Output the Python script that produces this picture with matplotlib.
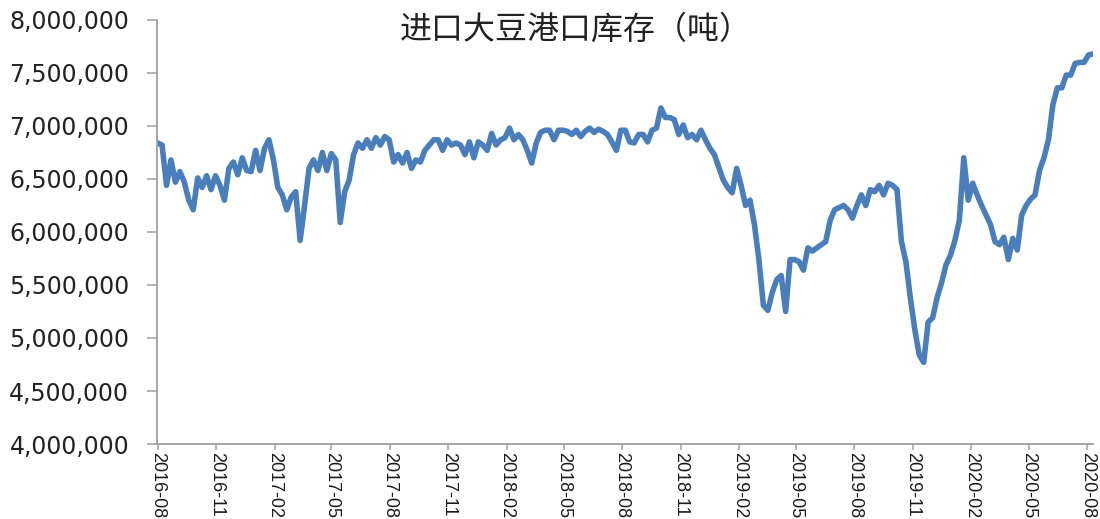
import matplotlib
matplotlib.use("Agg")
import matplotlib.pyplot as plt
from matplotlib.ticker import FuncFormatter, MultipleLocator
import pandas as pd

plt.rcParams['font.family'] = ['Noto Sans CJK SC', 'DejaVu Sans']

title = "进口大豆港口库存（吨）"
start_date = "2016-08-01"
# weekly readings, unit: 10,000 tons
values_wan = [
    684, 682, 644, 668, 647, 657, 647, 630, 621, 651,
    642, 653, 640, 653, 644, 630, 660, 666, 654, 670,
    658, 657, 677, 658, 679, 687, 668, 642, 635, 621,
    633, 638, 592, 625, 660, 668, 658, 675, 658, 674,
    668, 609, 638, 649, 673, 684, 679, 687, 679, 689,
    682, 690, 687, 666, 673, 665, 675, 660, 668, 666,
    677, 682, 687, 687, 677, 687, 682, 684, 682, 673,
    685, 670, 685, 682, 677, 693, 682, 687, 689, 698,
    687, 692, 687, 677, 665, 684, 694, 696, 696, 687,
    696, 696, 695, 692, 696, 690, 695, 698, 694, 697,
    695, 692, 685, 677, 696, 696, 685, 684, 692, 692,
    685, 696, 698, 717, 708, 708, 706, 692, 701, 689,
    692, 687, 696, 687, 679, 673, 661, 649, 642, 637,
    660, 644, 625, 630, 607, 574, 531, 526, 543, 555,
    559, 525, 574, 574, 572, 564, 585, 582, 585, 588,
    591, 611, 621, 623, 625, 621, 613, 625, 635, 625,
    640, 638, 644, 635, 646, 644, 640, 591, 572, 538,
    508, 484, 477, 515, 519, 538, 552, 569, 578, 592,
    611, 670, 630, 646, 635, 625, 616, 607, 591, 588,
    595, 574, 594, 583, 616, 625, 631, 635, 658, 670,
    687, 720, 736, 736, 748, 748, 759, 760, 760, 767,
    768,
]
tick_months = ["2016-08", "2016-11", "2017-02", "2017-05", "2017-08", "2017-11",
               "2018-02", "2018-05", "2018-08", "2018-11", "2019-02", "2019-05",
               "2019-08", "2019-11", "2020-02", "2020-05", "2020-08"]

dates = pd.date_range(start_date, periods=len(values_wan), freq="7D")
values = [v * 10000 for v in values_wan]

fig = plt.figure(figsize=(11, 5.19), dpi=100)
ax = fig.add_axes([0.1427, 0.1445, 0.8509, 0.817])

ax.plot(dates, values, color="#4A7EBB", linewidth=4, solid_joinstyle="round")

ax.set_ylim(4000000, 8000000)
ax.yaxis.set_major_locator(MultipleLocator(500000))
ax.yaxis.set_major_formatter(FuncFormatter(lambda v, p: f"{int(v):,}"))
ax.set_xlim(pd.Timestamp("2016-07-31"), pd.Timestamp("2020-08-10"))
ax.set_xticks([pd.Timestamp(m + "-01") for m in tick_months])
ax.set_xticklabels(tick_months, rotation=-90, family="Liberation Sans", fontsize=13,
                   color="#1a1a1a")

for lab in ax.get_yticklabels():
    lab.set_family("DejaVu Sans")
    lab.set_fontsize(17)
    lab.set_color("#222222")

for s in ["top", "right"]:
    ax.spines[s].set_visible(False)
for s in ["left", "bottom"]:
    ax.spines[s].set_color("#A0A0A0")
    ax.spines[s].set_linewidth(1.3)
ax.tick_params(axis="y", length=7, width=1.1, color="#A0A0A0", pad=13)
ax.tick_params(axis="x", length=4, width=1.1, color="#A0A0A0", pad=2)

ax.text(0.447, 0.978, title, transform=ax.transAxes, ha="center", va="center",
        fontsize=23, color="#222222", family=["Noto Sans CJK SC", "DejaVu Sans"])

fig.savefig("out.png", dpi=100, facecolor="white")
